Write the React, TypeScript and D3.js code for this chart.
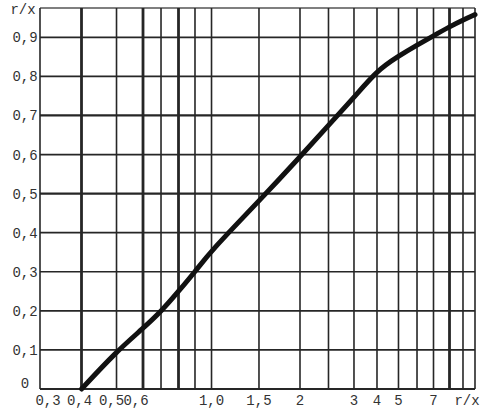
import React from "react";
import * as d3 from "d3";

// x grid values (nomogram scale) and their labels
const xGridValues = [0.3, 0.4, 0.5, 0.6, 0.7, 0.8, 0.9, 1.0, 1.5, 2, 2.5, 3, 4, 5, 6, 7, 8, 9, 10];
const xTickLabels = ["0,3", "0,4", "0,5", "0,6", "", "", "", "1,0", "1,5", "2", "", "3", "4", "5", "", "7", "", "", "r/x"];
const xHeavyLines = [0.4, 0.6, 0.8, 8];

// y grid values and labels
const yGridValues = [0, 0.1, 0.2, 0.3, 0.4, 0.5, 0.6, 0.7, 0.8, 0.9];
const yTickLabels = ["0", "0,1", "0,2", "0,3", "0,4", "0,5", "0,6", "0,7", "0,8", "0,9"];
const yAxisTitle = "r/x";

// curve
const curveX = [0.4, 0.5, 0.6, 0.7, 0.8, 0.9, 1.0, 1.5, 2, 2.5, 3, 4, 5, 6, 7, 8, 9, 10];
const curveY = [0, 0.096, 0.155, 0.198, 0.25, 0.3, 0.355, 0.481, 0.594, 0.675, 0.746, 0.815, 0.852, 0.88, 0.904, 0.927, 0.944, 0.958];

const W = 490;
const H = 409;
const left = 40;
const right = 475;
const top = 8;
const bottom = 389;
const yTop = 0.975;

// relative placement of the nomogram's x divisions across the plot width
const xFractions = [0, 0.0954, 0.1759, 0.2368, 0.2782, 0.3184, 0.3563, 0.3943, 0.5034, 0.5977, 0.6632, 0.7218, 0.7747, 0.8241, 0.8667, 0.9046, 0.9414, 0.9724, 1];

export default function App() {
  const x = d3
    .scaleLinear()
    .domain(xGridValues)
    .range(xFractions.map((f) => left + f * (right - left)));
  const y = d3.scaleLinear().domain([0, yTop]).range([bottom, top]);

  const pts: [number, number][] = curveX.map((v, i) => [x(v), y(curveY[i])]);
  const line = d3.line().curve(d3.curveBasis)(pts) || "";

  const labelDx: Record<string, number> = { "0,3": 8, "0,4": -2, "0,5": -5, "0,6": -7, "r/x": -8 };
  const font = "'Liberation Mono', 'DejaVu Sans Mono', monospace";
  const ink = "#262626";

  return (
    <svg
      width={W}
      height={H}
      style={{ position: "absolute", left: 0, top: 0, display: "block", background: "#fff" }}
    >
      <rect x={0} y={0} width={W} height={H} fill="#fff" />
      {/* horizontal grid */}
      {yGridValues.map((v) => (
        <line
          key={"h" + v}
          x1={left}
          x2={right}
          y1={y(v)}
          y2={y(v)}
          stroke={ink}
          strokeWidth={v === 0 ? 2 : v === 0.5 || v === 0.7 ? 2.2 : 1.7}
        />
      ))}
      {/* top border */}
      <line x1={left} x2={right} y1={y(yTop)} y2={y(yTop)} stroke="#555" strokeWidth={1.5} />
      {/* vertical grid */}
      {xGridValues.map((v) => (
        <line
          key={"v" + v}
          x1={x(v)}
          x2={x(v)}
          y1={y(yTop)}
          y2={bottom}
          stroke={ink}
          strokeWidth={xHeavyLines.includes(v) ? 2.8 : 1.6}
        />
      ))}
      {/* curve */}
      <path d={line} fill="none" stroke="#111" strokeWidth={5} strokeLinecap="round" strokeLinejoin="round" />
      {/* y labels */}
      {yGridValues.map((v, i) => (
        <text
          key={"yl" + v}
          x={25}
          y={y(v) + (v === 0 ? -1 : 5)}
          textAnchor="middle"
          fontFamily={font}
          fontSize={14}
          fill="#333"
        >
          {yTickLabels[i]}
        </text>
      ))}
      <text x={23} y={14} textAnchor="middle" fontFamily={font} fontSize={14} fill="#333">
        {yAxisTitle}
      </text>
      {/* x labels */}
      {xGridValues.map((v, i) =>
        xTickLabels[i] ? (
          <text
            key={"xl" + v}
            x={x(v) + (labelDx[xTickLabels[i]] || 0)}
            y={405}
            textAnchor="middle"
            fontFamily={font}
            fontSize={14}
            fill="#333"
          >
            {xTickLabels[i]}
          </text>
        ) : null
      )}
    </svg>
  );
}
